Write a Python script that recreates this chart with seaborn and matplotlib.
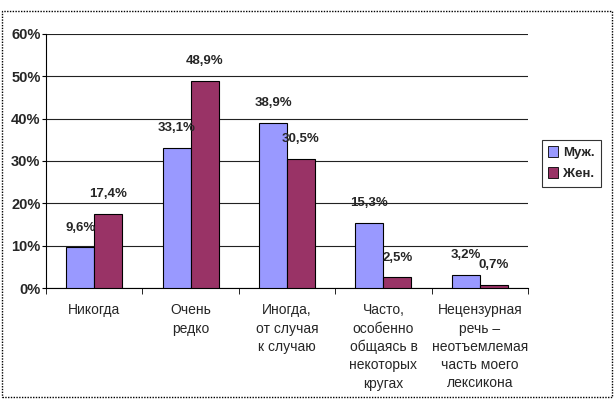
"""Bar chart: how often men and women use obscene language (survey shares)."""

import matplotlib
matplotlib.use("Agg")
import matplotlib.pyplot as plt
import pandas as pd
import seaborn as sns
from matplotlib.patches import Rectangle
from matplotlib.ticker import PercentFormatter

categories = [
    "Никогда",
    "Очень\nредко",
    "Иногда,\nот случая\nк случаю",
    "Часто,\nособенно\nобщаясь в\nнекоторых\nкругах",
    "Нецензурная\nречь –\nнеотъемлемая\nчасть моего\nлексикона",
]
series_names = ["Муж.", "Жен."]
men_values = [9.6, 33.1, 38.9, 15.3, 3.2]
women_values = [17.4, 48.9, 30.5, 2.5, 0.7]
y_ticks = [0, 10, 20, 30, 40, 50, 60]

BLUE = "#9999FF"
MAROON = "#993366"


def build_frame() -> pd.DataFrame:
    rows = []
    for cat, m, w in zip(categories, men_values, women_values):
        rows.append({"category": cat, "sex": series_names[0], "value": m})
        rows.append({"category": cat, "sex": series_names[1], "value": w})
    return pd.DataFrame(rows)


def main() -> None:
    sns.set_style("white")
    plt.rcParams["font.family"] = ["Liberation Sans", "DejaVu Sans"]

    df = build_frame()
    fig = plt.figure(figsize=(6.14, 3.99), dpi=100)
    ax = fig.add_axes([0.075, 0.278, 0.785, 0.637])

    sns.barplot(
        data=df, x="category", y="value", hue="sex",
        palette=[BLUE, MAROON], saturation=1, width=0.58, edgecolor="black",
        linewidth=0.8, ax=ax, zorder=3, legend=True,
    )

    ax.set_ylim(0, 60)
    ax.set_xlim(-0.5, len(categories) - 0.5)
    ax.set_yticks(y_ticks)
    ax.yaxis.set_major_formatter(PercentFormatter(decimals=0))
    ax.grid(axis="y", color="#222222", linewidth=0.8, zorder=0)
    ax.set_axisbelow(True)
    for side in ("top", "right"):
        ax.spines[side].set_visible(False)
    for side in ("left", "bottom"):
        ax.spines[side].set_color("black")
        ax.spines[side].set_linewidth(0.8)
    ax.set_xlabel("")
    ax.set_ylabel("")

    # category tick marks sit between groups, labels centred under groups
    ax.set_xticks(range(len(categories)))
    ax.set_xticklabels(categories, fontsize=10, linespacing=1.38, va="top")
    ax.set_xticks([i - 0.5 for i in range(len(categories) + 1)], minor=True)
    ax.tick_params(axis="x", which="major", length=0, pad=11)
    ax.tick_params(axis="x", which="minor", length=4, color="black", direction="out", bottom=True)
    ax.tick_params(axis="y", length=3, color="black", direction="out", left=True, pad=1)
    for lbl in ax.get_yticklabels():
        lbl.set_fontsize(10.5)
        lbl.set_fontweight("bold")

    for container in ax.containers:
        labels = [f"{v:.1f}%".replace(".", ",") for v in container.datavalues]
        ax.bar_label(container, labels=labels, padding=10, fontsize=9.5, fontweight="bold")

    leg = ax.legend(
        loc="upper left", bbox_to_anchor=(1.015, 0.61), frameon=True, fancybox=False,
        edgecolor="black", handlelength=0.7, handleheight=0.9, handletextpad=0.4,
        borderpad=0.5, labelspacing=0.6, prop={"size": 9.5, "weight": "bold"},
    )
    leg.get_frame().set_linewidth(0.8)
    for h in leg.legend_handles:
        h.set_edgecolor("black")
        h.set_linewidth(0.6)

    frame = Rectangle((0.003, 0.005), 0.993, 0.968, transform=fig.transFigure,
                      fill=False, edgecolor="black", linestyle=(0, (1, 1)), linewidth=1.0)
    fig.patches.append(frame)

    fig.savefig("out.png", dpi=100)
    plt.close(fig)


if __name__ == "__main__":
    main()
